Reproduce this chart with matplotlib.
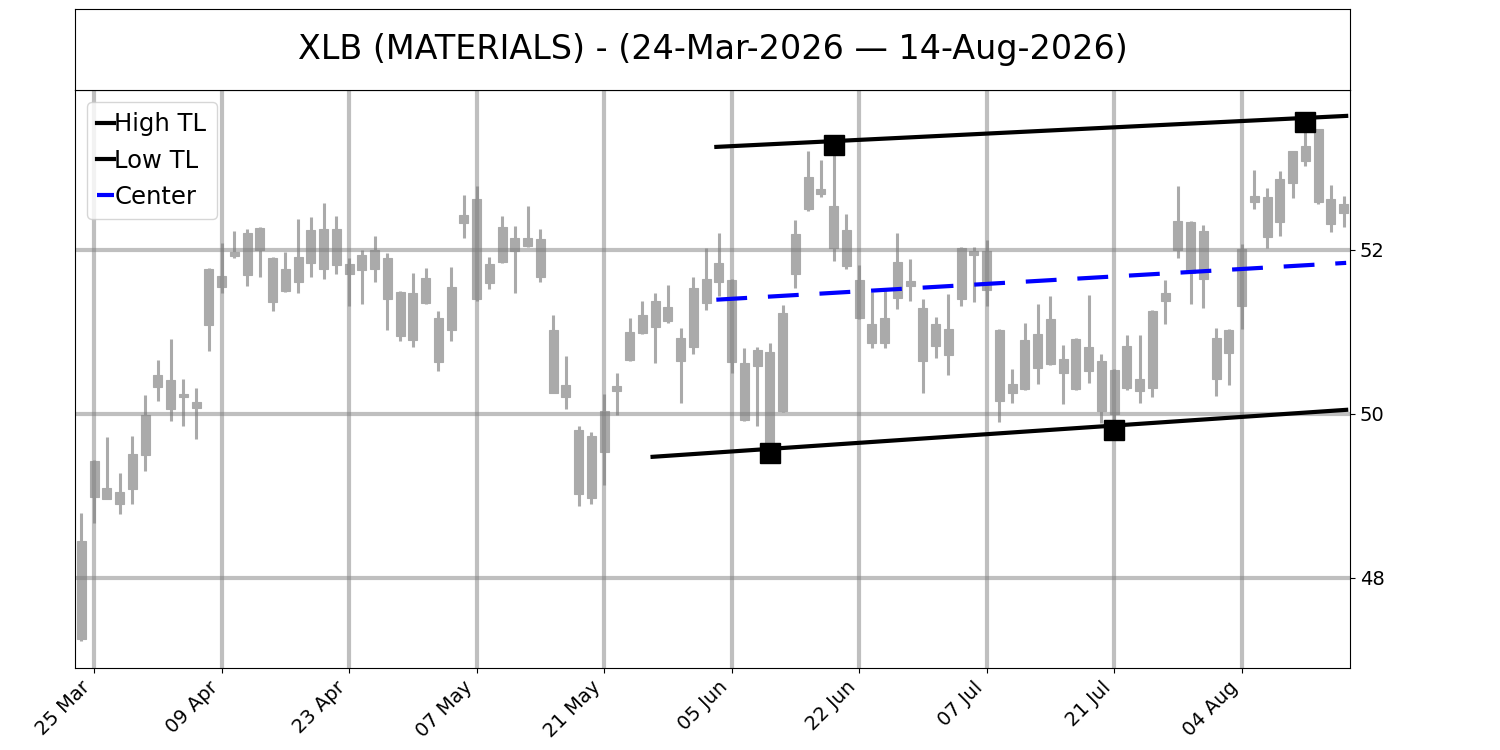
import numpy as np
import pandas as pd
import matplotlib
matplotlib.use("Agg")
import matplotlib.pyplot as plt

# ---------------- data ----------------
start_date = "2026-03-24"
holidays = ["2026-04-03", "2026-05-25", "2026-06-19", "2026-07-03"]
n_bars = 100

highs = [48.79, 49.44, 49.72, 49.28, 49.73, 50.23, 50.66, 50.91, 50.43, 50.31,
         51.78, 52.08, 52.23, 52.25, 52.28, 51.91, 51.98, 52.38, 52.40, 52.57,
         52.41, 51.90, 52.00, 52.17, 51.96, 51.50, 51.72, 51.78, 51.26, 51.79,
         52.67, 52.78, 51.91, 52.41, 52.29, 52.53, 52.25, 51.20, 50.71, 49.85,
         49.78, 50.24, 50.50, 51.17, 51.38, 51.47, 51.57, 51.05, 51.67, 52.02,
         52.20, 51.64, 50.80, 50.81, 50.87, 51.33, 52.37, 53.21, 53.10, 53.29,
         52.44, 51.82, 51.49, 51.53, 52.20, 51.89, 51.40, 51.18, 51.46, 52.03,
         52.03, 52.12, 51.03, 50.55, 51.11, 51.34, 51.44, 50.84, 50.93, 51.45,
         50.73, 50.55, 50.96, 50.96, 51.27, 51.63, 52.78, 52.35, 52.30, 51.05,
         51.03, 52.07, 52.98, 52.76, 52.96, 53.21, 53.57, 53.48, 52.79, 52.66]
lows = [47.23, 48.67, 48.96, 48.78, 48.90, 49.30, 50.16, 49.91, 49.85, 49.69,
        50.77, 51.48, 51.90, 51.56, 51.67, 51.25, 51.49, 51.47, 51.67, 51.64,
        51.70, 51.31, 51.34, 51.61, 51.02, 50.89, 50.81, 51.34, 50.52, 50.89,
        52.15, 51.38, 51.52, 51.84, 51.47, 52.04, 51.61, 50.25, 50.06, 48.88,
        48.90, 49.13, 49.98, 50.65, 50.98, 50.62, 51.11, 50.13, 50.73, 51.27,
        51.44, 50.50, 49.91, 49.85, 49.52, 50.02, 51.53, 52.48, 52.65, 51.87,
        51.77, 51.16, 50.80, 50.80, 51.28, 51.38, 50.25, 50.68, 50.48, 51.32,
        51.36, 51.31, 49.90, 50.13, 50.29, 50.36, 50.60, 50.12, 50.29, 50.38,
        49.89, 49.80, 50.29, 50.13, 50.21, 51.09, 51.90, 51.34, 51.29, 50.22,
        50.35, 51.03, 52.50, 52.02, 52.17, 52.63, 53.02, 52.56, 52.22, 52.28]
opens = [48.45, 48.98, 49.09, 49.05, 49.08, 49.50, 50.33, 50.41, 50.20, 50.14,
         51.08, 51.68, 51.92, 52.20, 52.00, 51.90, 51.77, 51.61, 51.84, 51.77,
         51.82, 51.83, 51.75, 51.77, 51.90, 51.49, 51.48, 51.35, 51.17, 51.02,
         52.33, 52.62, 51.59, 51.85, 52.15, 52.05, 52.13, 51.02, 50.35, 49.80,
         48.97, 49.53, 50.28, 50.66, 50.99, 51.06, 51.13, 50.92, 50.81, 51.35,
         51.61, 51.63, 50.62, 50.58, 50.75, 50.04, 51.71, 52.50, 52.68, 52.54,
         52.24, 51.63, 51.09, 50.86, 51.41, 51.62, 51.29, 51.09, 50.72, 51.40,
         51.94, 51.99, 51.02, 50.37, 50.30, 50.56, 50.61, 50.67, 50.30, 50.52,
         50.65, 50.53, 50.83, 50.42, 50.31, 51.38, 52.00, 52.34, 52.23, 50.93,
         50.74, 51.31, 52.59, 52.16, 52.34, 52.81, 53.08, 53.47, 52.62, 52.56]
closes = [47.25, 49.42, 48.96, 48.90, 49.51, 49.98, 50.48, 50.06, 50.24, 50.07,
          51.77, 51.55, 51.98, 51.69, 52.27, 51.37, 51.50, 51.91, 52.24, 52.26,
          52.25, 51.71, 51.94, 52.00, 51.40, 50.95, 50.90, 51.66, 50.63, 51.55,
          52.43, 51.40, 51.83, 52.28, 51.99, 52.14, 51.67, 50.26, 50.21, 49.02,
          49.73, 50.03, 50.34, 51.00, 51.20, 51.38, 51.30, 50.64, 51.54, 51.65,
          51.84, 50.63, 49.93, 50.78, 49.65, 51.23, 52.19, 52.89, 52.74, 52.02,
          51.80, 51.17, 50.86, 51.17, 51.85, 51.56, 50.65, 50.83, 51.03, 52.02,
          51.99, 51.51, 50.16, 50.25, 50.90, 50.98, 51.16, 50.50, 50.91, 50.81,
          50.03, 50.00, 50.31, 50.28, 51.26, 51.48, 52.35, 51.72, 51.64, 50.42,
          51.02, 52.01, 52.66, 52.64, 52.87, 53.20, 53.27, 52.58, 52.32, 52.45]

# trend lines (bar-index span and price at the ends)
high_tl_x = [49.8, 99.2]
high_tl_y = [53.256, 53.634]
low_tl_x = [44.8, 99.2]
low_tl_y = [49.476, 50.049]

# pivot markers
pivot_hi_x = [59, 96]
pivot_hi_y = [53.283, 53.565]
pivot_lo_x = [54, 81]
pivot_lo_y = [49.52, 49.80]

title = "XLB (MATERIALS) - (24-Mar-2026 \u2014 14-Aug-2026)"
y_ticks = [48, 50, 52]

# ---------------- build ----------------
cbd = pd.offsets.CustomBusinessDay(holidays=holidays)
dates = pd.date_range(start=start_date, periods=n_bars, freq=cbd)
x = np.arange(n_bars)

fig = plt.figure(figsize=(15, 7.5), dpi=100)
ax = fig.add_axes([0.05, 0.1093, 0.85, 0.7707])
tax = fig.add_axes([0.05, 0.88, 0.85, 0.108])

candle_color = "#aaaaaa"
o = np.array(opens)
c = np.array(closes)
body_lo = np.minimum(o, c)
body_h = np.abs(c - o)
ax.vlines(x, lows, highs, color=candle_color, linewidth=2.2, zorder=1)
ax.bar(x, body_h, bottom=body_lo, width=0.7, color=candle_color,
       edgecolor=candle_color, linewidth=0.8, zorder=1)

# trend lines
ax.plot(high_tl_x, high_tl_y, color="black", linewidth=3, zorder=3, label="High TL")
ax.plot(low_tl_x, low_tl_y, color="black", linewidth=3, zorder=3, label="Low TL")
center_x = high_tl_x
center_y = [(hy + np.interp(cx, low_tl_x, low_tl_y)) / 2 for cx, hy in zip(high_tl_x, high_tl_y)]
ax.plot(center_x, center_y, color="blue", linewidth=3, linestyle=(0, (7.4, 5)),
        zorder=3, label="Center")
ax.plot(pivot_hi_x, pivot_hi_y, linestyle="none", marker="s", markersize=15,
        color="black", zorder=4)
ax.plot(pivot_lo_x, pivot_lo_y, linestyle="none", marker="s", markersize=15,
        color="black", zorder=4)

ax.set_xlim(-0.5, n_bars - 0.5)
ax.set_ylim(46.9, 53.95)

tick_idx = list(range(1, n_bars, 10))
ax.set_xticks(tick_idx)
ax.set_xticklabels([dates[i].strftime("%d %b") for i in tick_idx],
                   rotation=45, ha="right", fontsize=14)
ax.yaxis.tick_right()
ax.set_yticks(y_ticks)
ax.set_yticklabels([str(v) for v in y_ticks], fontsize=14)
ax.grid(True, color="gray", alpha=0.5, linewidth=3)

ax.legend(loc="upper left", fontsize=17.5, handlelength=0.7, handletextpad=0.0,
          borderpad=0.42, labelspacing=0.5, borderaxespad=0.5)

tax.set_xticks([])
tax.set_yticks([])
tax.text(0.5, 0.5, title, ha="center", va="center", fontsize=24,
         transform=tax.transAxes)

fig.savefig("out.png", dpi=100)
